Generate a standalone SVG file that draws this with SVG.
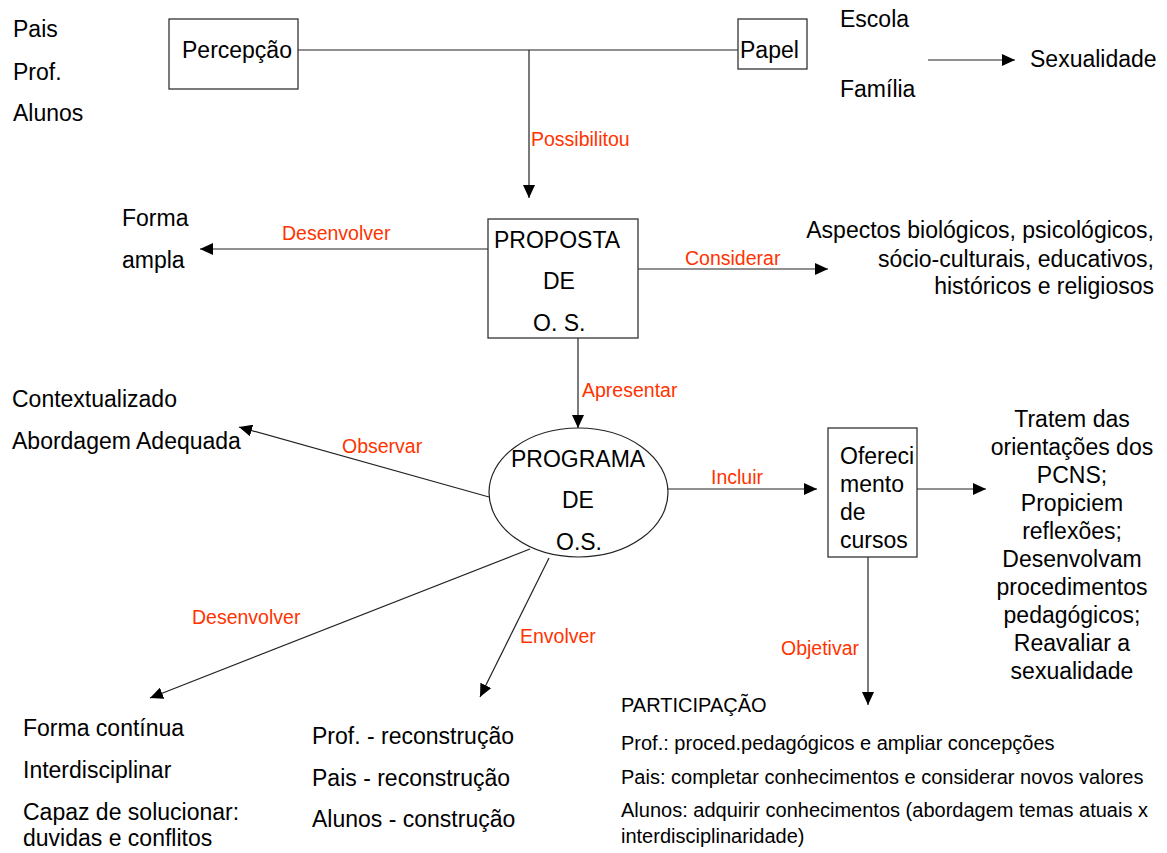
<svg xmlns="http://www.w3.org/2000/svg" width="1167" height="853" viewBox="0 0 1167 853">
<defs>
<marker id="ah" markerUnits="userSpaceOnUse" markerWidth="13" markerHeight="12" refX="13" refY="6" orient="auto">
<path d="M0,0 L13,6 L0,12 z" fill="#000"/>
</marker>
<style>
.t{font-family:"Liberation Sans",Arial,sans-serif;font-size:23px;fill:#000}
.s{font-family:"Liberation Sans",Arial,sans-serif;font-size:20px;fill:#000}
.r{font-family:"Liberation Sans",Arial,sans-serif;font-size:19.5px;fill:#ff3300}
.box{fill:#fff;stroke:#333;stroke-width:1.3}
.c{stroke:#222;stroke-width:1.2;fill:none}
.a{stroke:#222;stroke-width:1.2;fill:none;marker-end:url(#ah)}
</style>
</defs>
<rect width="1167" height="853" fill="#fff"/>
<g id="connectors">
<line class="c" x1="298" y1="50" x2="738" y2="50"/>
<line class="a" x1="529" y1="50" x2="529" y2="198"/>
<line class="a" x1="488" y1="249" x2="200" y2="249"/>
<line class="a" x1="638" y1="269" x2="828" y2="269"/>
<line class="a" x1="578" y1="338" x2="578" y2="428"/>
<line class="a" x1="489" y1="497" x2="239" y2="427"/>
<line class="a" x1="668" y1="489" x2="817" y2="489"/>
<line class="a" x1="917" y1="489" x2="986" y2="489"/>
<line class="a" x1="868" y1="557" x2="868" y2="705"/>
<line class="a" x1="530" y1="549" x2="150" y2="698"/>
<line class="a" x1="549" y1="558" x2="480" y2="697"/>
<line class="a" x1="928" y1="60" x2="1015" y2="60"/>
</g>
<g id="labels">
<text class="r" x="531" y="146">Possibilitou</text>
<text class="r" x="282" y="240">Desenvolver</text>
<text class="r" x="685" y="265">Considerar</text>
<text class="r" x="582" y="397">Apresentar</text>
<text class="r" x="342" y="453">Observar</text>
<text class="r" x="711" y="484">Incluir</text>
<text class="r" x="192" y="624">Desenvolver</text>
<text class="r" x="520" y="643">Envolver</text>
<text class="r" x="781" y="655">Objetivar</text>
</g>
<g id="atores">
<text class="t" x="13" y="37">Pais</text>
<text class="t" x="13" y="80">Prof.</text>
<text class="t" x="13" y="121">Alunos</text>
</g>
<g id="percepcao">
<rect class="box" x="169" y="19" width="129" height="70"/>
<text class="t" x="182" y="58">Percepção</text>
</g>
<g id="papel">
<rect class="box" x="738" y="19" width="69" height="50"/>
<text class="t" x="740" y="58">Papel</text>
</g>
<g id="escola-familia">
<text class="t" x="840" y="27">Escola</text>
<text class="t" x="840" y="97">Família</text>
</g>
<g id="sexualidade">
<text class="t" x="1030" y="67">Sexualidade</text>
</g>
<g id="proposta">
<rect class="box" x="488" y="219" width="150" height="119"/>
<text class="t" x="494" y="248">PROPOSTA</text>
<text class="t" x="543" y="289">DE</text>
<text class="t" x="533" y="331">O. S.</text>
</g>
<g id="forma-ampla">
<text class="t" x="122" y="226">Forma</text>
<text class="t" x="122" y="268">ampla</text>
</g>
<g id="aspectos">
<text class="t" x="1154" y="238" text-anchor="end">Aspectos biológicos, psicológicos,</text>
<text class="t" x="1154" y="267" text-anchor="end">sócio-culturais, educativos,</text>
<text class="t" x="1154" y="294" text-anchor="end">históricos e religiosos</text>
</g>
<g id="programa">
<ellipse fill="#fff" stroke="#222" stroke-width="1.2" cx="578.5" cy="492.5" rx="89.5" ry="64.5"/>
<text class="t" x="511" y="467">PROGRAMA</text>
<text class="t" x="562" y="508">DE</text>
<text class="t" x="556" y="550">O.S.</text>
</g>
<g id="contextualizado">
<text class="t" x="12" y="407">Contextualizado</text>
<text class="t" x="12" y="449">Abordagem Adequada</text>
</g>
<g id="oferecimento">
<rect class="box" x="828" y="428" width="89" height="129"/>
<text class="t" x="840" y="464">Ofereci</text>
<text class="t" x="840" y="492">mento</text>
<text class="t" x="840" y="520">de</text>
<text class="t" x="840" y="548">cursos</text>
</g>
<g id="tratem" text-anchor="middle">
<text class="t" x="1072" y="427">Tratem das</text>
<text class="t" x="1072" y="455">orientações dos</text>
<text class="t" x="1072" y="483">PCNS;</text>
<text class="t" x="1072" y="511">Propiciem</text>
<text class="t" x="1072" y="539">reflexões;</text>
<text class="t" x="1072" y="567">Desenvolvam</text>
<text class="t" x="1072" y="595">procedimentos</text>
<text class="t" x="1072" y="623">pedagógicos;</text>
<text class="t" x="1072" y="651">Reavaliar a</text>
<text class="t" x="1072" y="679">sexualidade</text>
</g>
<g id="forma-continua">
<text class="t" x="23" y="736">Forma contínua</text>
<text class="t" x="23" y="778">Interdisciplinar</text>
<text class="t" x="23" y="820">Capaz de solucionar:</text>
<text class="t" x="23" y="846">duvidas e conflitos</text>
</g>
<g id="reconstrucao">
<text class="t" x="312" y="744">Prof. - reconstrução</text>
<text class="t" x="312" y="786">Pais - reconstrução</text>
<text class="t" x="312" y="827">Alunos - construção</text>
</g>
<g id="participacao">
<text class="s" x="621" y="712">PARTICIPAÇÃO</text>
<text class="s" x="621" y="750">Prof.: proced.pedagógicos e ampliar concepções</text>
<text class="s" x="621" y="784">Pais: completar conhecimentos e considerar novos valores</text>
<text class="s" x="621" y="817">Alunos: adquirir conhecimentos (abordagem temas atuais x</text>
<text class="s" x="621" y="843">interdisciplinaridade)</text>
</g>
</svg>
